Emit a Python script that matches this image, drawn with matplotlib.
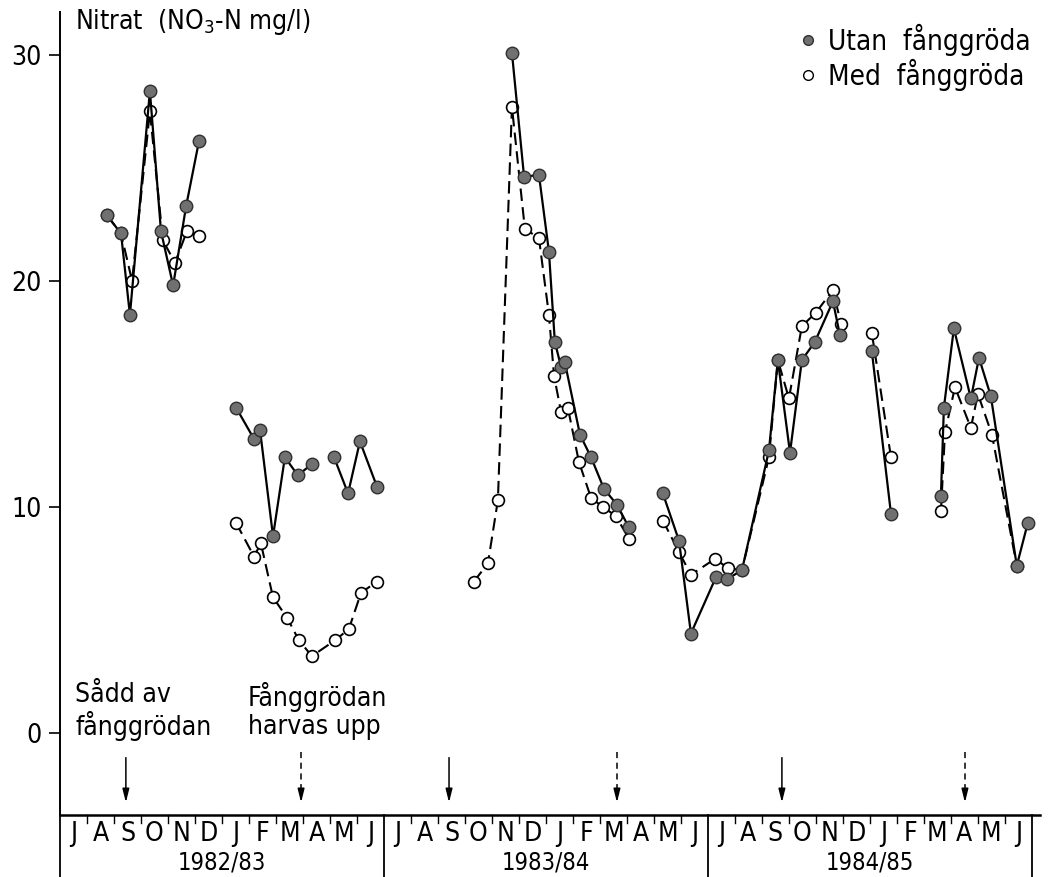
import numpy as np
import matplotlib
matplotlib.use("Agg")
import matplotlib.pyplot as plt
from matplotlib.lines import Line2D

plt.rcParams['font.family'] = ['DejaVu Sans']
plt.rcParams['font.stretch'] = 'condensed'
plt.rcParams['mathtext.fontset'] = 'custom'
plt.rcParams['mathtext.rm'] = 'DejaVu Sans:stretch=condensed'

# months counted from 1 July 1982 (0 = start of July 1982), NaN = gap in the line
utan_month = [1.74, 2.26, 2.59, 3.33, 3.74, 4.19, 4.67, 5.15, np.nan,
              6.52, 7.19, 7.41, 7.89, 8.33, 8.81, 9.33, np.nan,
              10.15, 10.67, 11.11, 11.74, np.nan,
              16.74, 17.19, 17.74, 18.11, 18.33, 18.56, 18.70, 19.26, 19.67, 20.15, 20.63, 21.07, np.nan,
              22.33, 22.93, 23.37, 24.30, 24.70, 25.26, 26.26, 26.59, 27.04, 27.48, 27.96, 28.63, 28.89, np.nan,
              30.07, 30.78, np.nan,
              32.63, 32.74, 33.11, 33.74, 34.04, 34.48, 35.44, 35.85]
utan_nitrat = [22.9, 22.1, 18.5, 28.4, 22.2, 19.8, 23.3, 26.2, np.nan,
               14.4, 13.0, 13.4, 8.7, 12.2, 11.4, 11.9, np.nan,
               12.2, 10.6, 12.9, 10.9, np.nan,
               30.1, 24.6, 24.7, 21.3, 17.3, 16.2, 16.4, 13.2, 12.2, 10.8, 10.1, 9.1, np.nan,
               10.6, 8.5, 4.4, 6.9, 6.8, 7.2, 12.5, 16.5, 12.4, 16.5, 17.3, 19.1, 17.6, np.nan,
               16.9, 9.7, np.nan,
               10.5, 14.4, 17.9, 14.8, 16.6, 14.9, 7.4, 9.3]

med_month = [1.74, 2.26, 2.67, 3.33, 3.81, 4.26, 4.70, 5.15, np.nan,
             6.52, 7.19, 7.44, 7.89, 8.41, 8.85, 9.33, 10.19, 10.70, 11.15, 11.74, np.nan,
             15.33, 15.85, 16.22, 16.74, 17.22, 17.74, 18.11, 18.30, 18.56, 18.81, 19.22, 19.67, 20.11, 20.59, 21.07, np.nan,
             22.33, 22.93, 23.37, 24.26, 24.74, 25.26, 26.26, 26.59, 27.00, 27.48, 28.00, 28.63, 28.93, np.nan,
             30.07, 30.78, np.nan,
             32.63, 32.78, 33.15, 33.74, 34.00, 34.52, 35.44]
med_nitrat = [22.9, 22.1, 20.0, 27.5, 21.8, 20.8, 22.2, 22.0, np.nan,
              9.3, 7.8, 8.4, 6.0, 5.1, 4.1, 3.4, 4.1, 4.6, 6.2, 6.7, np.nan,
              6.7, 7.5, 10.3, 27.7, 22.3, 21.9, 18.5, 15.8, 14.2, 14.4, 12.0, 10.4, 10.0, 9.6, 8.6, np.nan,
              9.4, 8.0, 7.0, 7.7, 7.3, 7.2, 12.2, 16.5, 14.8, 18.0, 18.6, 19.6, 18.1, np.nan,
              17.7, 12.2, np.nan,
              9.8, 13.3, 15.3, 13.5, 15.0, 13.2, 7.4]

month_letters = ["J", "A", "S", "O", "N", "D", "J", "F", "M", "A", "M", "J"]
seasons = ["1982/83", "1983/84", "1984/85"]
sowing = [2.44, 14.41, 26.74]      # Sådd av fånggrödan (solid arrows)
harrowing = [8.93, 20.63, 33.52]   # fånggrödan harvas upp (dashed arrows)

fig = plt.figure(figsize=(10.5, 8.77), dpi=100)
ax = fig.add_axes([60 / 1050, 62 / 877, 980 / 1050, 803 / 877])
ax.set_xlim(0, 36.3)
ax.set_ylim(-3.63, 31.9)

for s in ["top", "right"]:
    ax.spines[s].set_visible(False)
ax.spines["left"].set_linewidth(1.4)
ax.spines["bottom"].set_linewidth(1.8)

ax.set_yticks([0, 10, 20, 30])
ax.set_yticklabels(["0", "10", "20", "30"], fontsize=19)
ax.tick_params(axis="y", direction="out", length=8, width=1.2, pad=5)
ax.set_xticks([])

# data
ax.plot(med_month, med_nitrat, color="black", lw=1.5, ls=(0, (6, 3)),
        marker="o", markersize=8.5, markerfacecolor="white",
        markeredgecolor="black", markeredgewidth=1.2, zorder=3)
ax.plot(utan_month, utan_nitrat, color="black", lw=1.6, ls="-",
        marker="o", markersize=9, markerfacecolor="#707070",
        markeredgecolor="#303030", markeredgewidth=1.0, zorder=4)

# month band below the axis
y0 = ax.get_ylim()[0]
for yr in range(4):
    ax.plot([12 * yr, 12 * yr], [y0, -6.4], color="black", lw=1.3, clip_on=False)
for m in range(36):
    if m % 12 != 0:
        ax.plot([m, m], [y0, y0 - 0.35], color="black", lw=1.0, clip_on=False)
    ax.text(m + 0.5, -4.45, month_letters[m % 12], ha="center", va="center",
            fontsize=19, clip_on=False)
for i, s in enumerate(seasons):
    ax.text(12 * i + 6, -5.72, s, ha="center", va="center", fontsize=17, clip_on=False)

# arrows
for m in sowing:
    ax.annotate("", xy=(m, -3.2), xytext=(m, -0.97),
                arrowprops=dict(arrowstyle="-|>,head_length=0.8,head_width=0.2",
                                color="black", lw=1.1))
for m in harrowing:
    ax.plot([m, m], [-0.85, -2.6], color="black", lw=1.1, ls=(0, (4, 3)))
    ax.annotate("", xy=(m, -3.2), xytext=(m, -2.6),
                arrowprops=dict(arrowstyle="-|>,head_length=0.8,head_width=0.2",
                                color="black", lw=1.1))

ax.text(0.56, 2.25, "Sådd av\nfånggrödan", ha="left", va="top", fontsize=19,
        linespacing=1.1)
ax.text(6.96, 2.25, "Fånggrödan\nharvas upp", ha="left", va="top", fontsize=19,
        linespacing=1.1)

ax.text(0.56, 31.45, "Nitrat  (NO$_3$-N mg/l)", ha="left", va="center", fontsize=19)

handles = [Line2D([], [], ls="none", marker="o", markersize=7, markerfacecolor="#707070",
                  markeredgecolor="#303030"),
           Line2D([], [], ls="none", marker="o", markersize=7, markerfacecolor="white",
                  markeredgecolor="black")]
ax.legend(handles, ["Utan  fånggröda", "Med  fånggröda"], loc="upper left",
          bbox_to_anchor=(800 / 1050, 1 - 24 / 877), bbox_transform=fig.transFigure,
          frameon=False, fontsize=20, handlelength=0.6, handletextpad=0.4,
          labelspacing=0.1, borderpad=0, borderaxespad=0)

fig.savefig("out.png", dpi=100)
